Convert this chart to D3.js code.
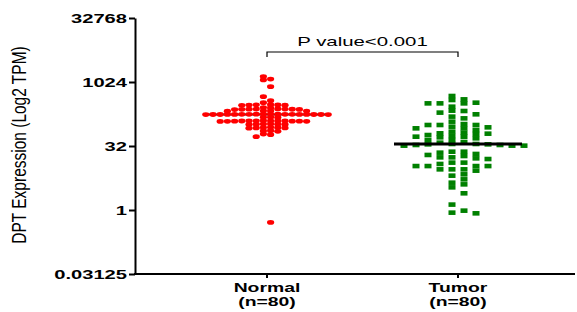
<!DOCTYPE html>
<html><head><meta charset="utf-8">
<script src="https://cdn.jsdelivr.net/npm/d3@7"></script>
<style>body{margin:0;background:#fff}svg{display:block}</style>
</head><body>
<svg id="c" width="577" height="312"></svg>
<script>
// ---- data ----
const categories = ["Normal", "Tumor"];
const sampleLabels = ["(n=80)", "(n=80)"];
const yTicks = [0.03125, 1, 32, 1024, 32768];
const pLabel = "P value<0.001";
const yTitle = "DPT Expression (Log2 TPM)";

const normalTPM = [
  1370, 1200, 1145, 793, 462, 372, 333,
  300, 298, 296, 294, 292, 290,
  256, 252,
  238, 237, 236, 235, 234, 233, 232, 230,
  215, 214, 212, 211,
  180, 180, 179, 179, 178, 178, 178, 178, 177, 177, 177, 177, 176, 176, 176, 176, 175, 175,
  151, 150, 152,
  126, 125, 125, 124, 124, 124, 124, 123, 123, 123, 122, 122, 121,
  106, 105, 104, 104, 103, 102,
  88, 87, 86, 85, 85, 84,
  73, 72, 71,
  61, 59,
  53,
  0.51
];
const tumorTPM = [
  62.4, 39.8, 32.6,
  91.1, 76.1, 48.5, 35.7, 20.8,
  322, 213, 99.8, 83.3, 63.6, 53.0, 33.8, 23.5, 17.3, 10.8, 9.04,
  334, 157, 105, 87.9, 69.6, 58.0, 38.3, 32.6, 22.3, 17.3, 12.1, 8.42, 6.90, 5.26, 4.01,
  480, 400, 322, 269, 217, 178, 143, 99.8, 83.3, 35.7, 19.7, 16.4, 13.0, 10.8, 9.04, 6.42, 4.39, 3.41,
  2.47, 1.34, 0.965, 0.835, 0.866,
  386, 322, 195, 119.5, 99.8, 53.0, 44.3, 33.8, 23.5, 15.8, 10.8, 9.04,
  61.3, 51.2, 35.0, 18.6, 13.0, 10.8,
  65.9, 55.0, 32.6,
  44.3, 35.0
];

// ---- layout ----
const svg = d3.select("#c");
const font = "'Liberation Sans', Arial, sans-serif";
const axisLeftX = 135, axisRightX = 575, plotTop = 18, plotBottom = 274;

const y = d3.scaleLog().base(2).domain([0.03125, 32768]).range([plotBottom, plotTop]);
const x = d3.scalePoint().domain(categories).range([267, 458]);

function swarm(values, cx, step, minDy) {
  const pts = values.map(v => ({ v, y: y(v) })).sort((a, b) => a.y - b.y);
  const placed = [];
  let flip = 0;
  pts.forEach(p => {
    for (let k = 0; k < 60; k++) {
      const sides = (flip % 2) ? [1, -1] : [-1, 1];
      let found = null;
      for (const s of sides) {
        const col = s * (k + 0.5);
        if (!placed.some(q => q.col === col && Math.abs(q.y - p.y) < minDy)) { found = col; break; }
      }
      if (found !== null) { p.col = found; flip++; break; }
    }
    p.x = cx + p.col * step;
    placed.push(p);
  });
  return pts;
}

// y axis
const gy = svg.append("g").attr("transform", `translate(${axisLeftX},0)`)
  .call(d3.axisLeft(y).tickValues(yTicks).tickFormat(d => String(d)).tickSize(6).tickSizeOuter(0));
gy.select(".domain").attr("stroke", "#000").attr("stroke-width", 2);
gy.selectAll(".tick line").attr("stroke", "#000").attr("stroke-width", 2);
gy.selectAll(".tick text")
  .attr("x", null).attr("dy", null)
  .attr("font-family", font).attr("font-weight", "bold").attr("font-size", 13)
  .attr("fill", "#000").attr("text-anchor", "end")
  .attr("transform", "translate(-8,4.7) scale(1.55,1)");

// x axis
svg.append("line").attr("x1", axisLeftX - 1).attr("x2", axisRightX).attr("y1", plotBottom).attr("y2", plotBottom)
  .attr("stroke", "#000").attr("stroke-width", 2);
svg.selectAll(".xtick").data(categories).enter().append("line")
  .attr("x1", d => x(d)).attr("x2", d => x(d)).attr("y1", plotBottom).attr("y2", plotBottom + 4)
  .attr("stroke", "#000").attr("stroke-width", 2);
categories.forEach((c, i) => {
  svg.append("text").attr("font-family", font).attr("font-weight", "bold").attr("font-size", 12.5)
    .attr("text-anchor", "middle").attr("transform", `translate(${x(c)},291.5) scale(1.55,1)`).text(c);
  svg.append("text").attr("font-family", font).attr("font-weight", "bold").attr("font-size", 12.5)
    .attr("text-anchor", "middle").attr("transform", `translate(${x(c)},306) scale(1.55,1)`).text(sampleLabels[i]);
});

// y title
svg.append("text").attr("font-family", font).attr("font-size", 15.5).attr("text-anchor", "middle")
  .attr("transform", `translate(26,145) rotate(-90) scale(1,1.3)`).text(yTitle);

// Normal: line under dots
const normPts = swarm(normalTPM, x("Normal"), 7.2, 3.0);
const normMed = d3.median(normalTPM);
svg.append("line").attr("x1", x("Normal") - 64).attr("x2", x("Normal") + 64)
  .attr("y1", y(normMed)).attr("y2", y(normMed)).attr("stroke", "#222").attr("stroke-width", 1.8);
svg.append("g").selectAll("ellipse").data(normPts).enter().append("ellipse")
  .attr("cx", d => d.x).attr("cy", d => d.y).attr("rx", 3.6).attr("ry", 2.4).attr("fill", "#ff0000");

// Tumor: squares, line over
const tumPts = swarm(tumorTPM, x("Tumor"), 12, 3.9);
svg.append("g").selectAll("rect").data(tumPts).enter().append("rect")
  .attr("x", d => d.x - 3.5).attr("y", d => d.y - 2.3).attr("width", 7).attr("height", 4.6).attr("fill", "#008000");
const tumMed = d3.median(tumorTPM);
svg.append("line").attr("x1", x("Tumor") - 64).attr("x2", x("Tumor") + 64)
  .attr("y1", y(tumMed)).attr("y2", y(tumMed)).attr("stroke", "#000").attr("stroke-width", 3);

// significance bracket
const by = 52;
svg.append("path").attr("d", `M${x("Normal")},${by + 5}V${by}H${x("Tumor")}V${by + 5}`)
  .attr("fill", "none").attr("stroke", "#000").attr("stroke-width", 1.2);
svg.append("text").attr("font-family", font).attr("font-size", 12).attr("text-anchor", "middle")
  .attr("transform", `translate(${(x("Normal") + x("Tumor")) / 2},46) scale(1.7,1)`).text(pLabel);
</script>
</body></html>
